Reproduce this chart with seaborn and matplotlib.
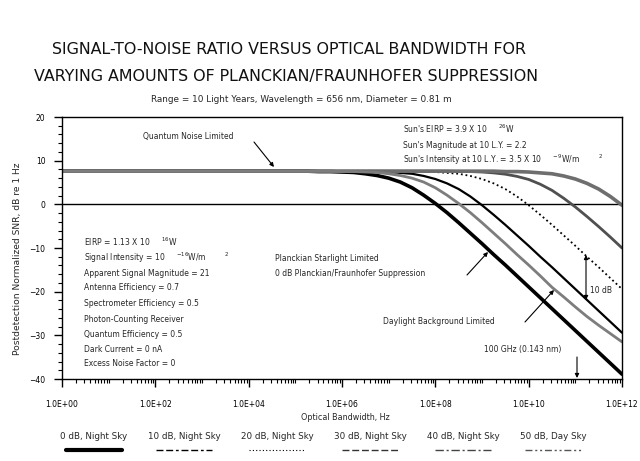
import numpy as np
import pandas as pd
import matplotlib
matplotlib.use("Agg")
import matplotlib.pyplot as plt
import seaborn as sns
from matplotlib.lines import Line2D
from matplotlib.ticker import FixedLocator, FixedFormatter, MultipleLocator, NullFormatter

# ---------------- data ----------------
log_bw = [0, 1, 2, 3, 4,
          5, 5.25, 5.5, 5.75, 6, 6.25, 6.5, 6.75, 7, 7.25, 7.5, 7.75, 8, 8.25,
          8.5, 8.75, 9, 9.25, 9.5, 9.75, 10, 10.25, 10.5, 10.75, 11, 11.25,
          11.5, 11.75, 12]

snr_0db_night = [7.6, 7.6, 7.6, 7.6, 7.6,
                 7.6, 7.6, 7.5, 7.5, 7.4, 7.3, 7.0, 6.6, 6.0, 5.1, 3.8, 2.1, 0.2, -1.9,
                 -4.2, -6.6, -9.0, -11.5, -13.9, -16.4, -18.9, -21.4, -23.9, -26.4, -28.9, -31.4,
                 -33.9, -36.4, -38.9]
snr_10db_night = [7.6, 7.6, 7.6, 7.6, 7.6,
                  7.6, 7.6, 7.6, 7.6, 7.6, 7.6, 7.5, 7.5, 7.4, 7.2, 7.0, 6.5, 5.8, 4.8,
                  3.5, 1.8, -0.2, -2.4, -4.7, -7.1, -9.5, -12.0, -14.4, -16.9, -19.4, -21.9,
                  -24.4, -26.9, -29.4]
snr_20db_night = [7.6, 7.6, 7.6, 7.6, 7.6,
                  7.6, 7.6, 7.6, 7.6, 7.6, 7.6, 7.6, 7.6, 7.6, 7.6, 7.5, 7.5, 7.4, 7.2,
                  7.0, 6.5, 5.8, 4.8, 3.5, 1.8, -0.2, -2.4, -4.7, -7.1, -9.5, -12.0,
                  -14.4, -16.9, -19.4]
snr_30db_night = [7.6, 7.6, 7.6, 7.6, 7.6,
                  7.6, 7.6, 7.6, 7.6, 7.6, 7.6, 7.6, 7.6, 7.6, 7.6, 7.6, 7.6, 7.6, 7.6,
                  7.5, 7.5, 7.4, 7.2, 6.9, 6.4, 5.7, 4.6, 3.2, 1.4, -0.6, -2.8,
                  -5.1, -7.5, -10.0]
snr_40db_night = [7.6, 7.6, 7.6, 7.6, 7.6,
                  7.6, 7.6, 7.6, 7.6, 7.6, 7.6, 7.6, 7.6, 7.6, 7.6, 7.6, 7.6, 7.6, 7.6,
                  7.6, 7.6, 7.6, 7.6, 7.5, 7.5, 7.4, 7.2, 7.0, 6.5, 5.8, 4.8,
                  3.5, 1.8, -0.2]
snr_50db_day = [7.6, 7.6, 7.6, 7.6, 7.6,
                7.6, 7.6, 7.6, 7.6, 7.5, 7.5, 7.4, 7.3, 7.0, 6.6, 6.0, 5.1, 3.8, 2.1,
                0.2, -1.9, -4.2, -6.6, -9.0, -11.5, -13.9, -16.4, -19.0, -21.2, -23.5, -25.7,
                -27.7, -29.6, -31.5]

series_labels = ["0 dB, Night Sky", "10 dB, Night Sky", "20 dB, Night Sky",
                 "30 dB, Night Sky", "40 dB, Night Sky", "50 dB, Day Sky"]

x_tick_exps = [0, 2, 4, 6, 8, 10, 12]
x_tick_labels = ["1.0E+00", "1.0E+02", "1.0E+04", "1.0E+06", "1.0E+08", "1.0E+10", "1.0E+12"]

bandwidth = [10.0 ** e for e in log_bw]
df = pd.DataFrame({"bw": bandwidth * 6,
                   "snr": snr_0db_night + snr_10db_night + snr_20db_night +
                          snr_30db_night + snr_40db_night + snr_50db_day,
                   "series": sum([[s] * len(log_bw) for s in series_labels], [])})

# ---------------- styling ----------------
sns.set_theme(style="ticks")
plt.rcParams["font.family"] = ["DejaVu Sans"]
plt.rcParams["axes.linewidth"] = 1.0

curve_styles = {
    "0 dB, Night Sky":  dict(color="black", lw=2.6, ls="-"),
    "10 dB, Night Sky": dict(color="black", lw=1.6, ls="-"),
    "20 dB, Night Sky": dict(color="black", lw=1.3, ls=(0, (1, 1.6))),
    "30 dB, Night Sky": dict(color="#505050", lw=2.0, ls="-"),
    "40 dB, Night Sky": dict(color="#6e6e6e", lw=2.6, ls="-"),
    "50 dB, Day Sky":   dict(color="#7d7d7d", lw=2.0, ls="-"),
}
legend_styles = {
    "0 dB, Night Sky":  dict(color="black", lw=3.0, ls="-"),
    "10 dB, Night Sky": dict(color="black", lw=1.0, ls=(0, (5, 2, 5, 2, 2, 2))),
    "20 dB, Night Sky": dict(color="black", lw=0.8, ls=(0, (1, 2))),
    "30 dB, Night Sky": dict(color="#333333", lw=1.0, ls=(0, (5, 2))),
    "40 dB, Night Sky": dict(color="#444444", lw=1.0, ls=(0, (6, 2, 1.5, 2))),
    "50 dB, Day Sky":   dict(color="#555555", lw=1.0, ls=(0, (5, 2, 1.5, 2, 1.5, 2))),
}

W, H = 640, 461
fig = plt.figure(figsize=(W / 100, H / 100), dpi=100)
ax = fig.add_axes([62 / W, 1 - 379 / H, (622 - 62) / W, (379 - 117) / H])

for s in series_labels:
    st = curve_styles[s]
    sub = df[df["series"] == s]
    sns.lineplot(data=sub, x="bw", y="snr", ax=ax, color=st["color"],
                 linewidth=st["lw"], linestyle=st["ls"], legend=False)

ax.axhline(0, color="black", lw=1.0, zorder=1)
ax.set_xscale("log")
ax.set_xlim(1, 1e12)
ax.set_ylim(-40, 20)

major_pos = [10.0 ** e for e in x_tick_exps]
minor_pos = [m * 10.0 ** d for d in range(0, 12) for m in range(1, 10)
             if not (m == 1 and d % 2 == 0)]
ax.xaxis.set_major_locator(FixedLocator(major_pos))
ax.xaxis.set_major_formatter(FixedFormatter(x_tick_labels))
ax.xaxis.set_minor_locator(FixedLocator(minor_pos))
ax.xaxis.set_minor_formatter(NullFormatter())
ax.yaxis.set_major_locator(MultipleLocator(10))
ax.yaxis.set_minor_locator(MultipleLocator(2))
ax.tick_params(which="major", direction="out", length=6, width=1.0, labelsize=5.5,
               color="black", labelcolor="black")
ax.tick_params(axis="x", which="major", pad=9)
ax.tick_params(axis="y", which="major", pad=6)
ax.tick_params(which="minor", direction="out", length=3, width=0.8, color="black")
for sp in ax.spines.values():
    sp.set_color("black")
    sp.set_linewidth(1.0)

ax.set_xlabel("")
ax.set_ylabel("")


def fx(x):
    return x / W


def fy(y):
    return 1 - y / H


# titles
fig.text(fx(289), fy(50), "SIGNAL-TO-NOISE RATIO VERSUS OPTICAL BANDWIDTH FOR",
         ha="center", va="center", fontsize=11.4, color="#111111")
fig.text(fx(286), fy(77), "VARYING AMOUNTS OF PLANCKIAN/FRAUNHOFER SUPPRESSION",
         ha="center", va="center", fontsize=11.4, color="#111111")
fig.text(fx(301), fy(100), "Range = 10 Light Years, Wavelength = 656 nm, Diameter = 0.81 m",
         ha="center", va="center", fontsize=6.4)

# axis labels
fig.text(fx(345), fy(417), "Optical Bandwidth, Hz", ha="center", va="center", fontsize=5.8)
fig.text(fx(18), fy(259), "Postdetection Normalized SNR, dB re 1 Hz", ha="center",
         va="center", rotation=90, fontsize=6.6)

fs = 5.5
# top annotations
fig.text(fx(403), fy(129), "Sun's EIRP = 3.9 X 10     $^{26}$W", ha="left", va="center", fontsize=fs)
fig.text(fx(143), fy(136), "Quantum Noise Limited", ha="left", va="center", fontsize=fs)
fig.text(fx(403), fy(145), "Sun's Magnitude at 10 L.Y. = 2.2", ha="left", va="center", fontsize=fs)
fig.text(fx(403), fy(160), "Sun's Intensity at 10 L.Y. = 3.5 X 10     $^{-9}$W/m        $^{2}$",
         ha="left", va="center", fontsize=fs)

# left parameter block
left_lines = ["EIRP = 1.13 X 10     $^{16}$W",
              "Signal Intensity = 10     $^{-16}$W/m        $^{2}$",
              "Apparent Signal Magnitude = 21",
              "Antenna Efficiency = 0.7",
              "Spectrometer Efficiency = 0.5",
              "Photon-Counting Receiver",
              "Quantum Efficiency = 0.5",
              "Dark Current = 0 nA",
              "Excess Noise Factor = 0"]
left_y = [242, 258, 273, 288, 303, 319, 334, 349, 364]
for t, yy in zip(left_lines, left_y):
    fig.text(fx(84), fy(yy), t, ha="left", va="center", fontsize=fs)

fig.text(fx(275), fy(258), "Planckian Starlight Limited", ha="left", va="center", fontsize=fs)
fig.text(fx(275), fy(273), "0 dB Planckian/Fraunhofer Suppression", ha="left", va="center", fontsize=fs)
fig.text(fx(383), fy(321), "Daylight Background Limited", ha="left", va="center", fontsize=fs)
fig.text(fx(484), fy(349), "100 GHz (0.143 nm)", ha="left", va="center", fontsize=fs)
fig.text(fx(590), fy(290), "10 dB", ha="left", va="center", fontsize=fs)


def arrow(x0, y0, x1, y1, style="-|>"):
    fig.add_artist(matplotlib.patches.FancyArrowPatch(
        (fx(x0), fy(y0)), (fx(x1), fy(y1)), transform=fig.transFigure,
        arrowstyle=style, color="black", lw=0.8, mutation_scale=6,
        shrinkA=0, shrinkB=0))


arrow(254, 142, 274, 167)
arrow(467, 275, 488, 252)
arrow(525, 322, 554, 290)
arrow(586, 300, 586, 255, style="<|-|>")
arrow(577, 357, 577, 378)

# legend (labels above line samples)
leg_cx = [94, 184, 277, 370, 463, 553]
for s, cx in zip(series_labels, leg_cx):
    fig.text(fx(cx), fy(436), s, ha="center", va="center", fontsize=6.3)
    st = legend_styles[s]
    fig.add_artist(Line2D([fx(cx - 28), fx(cx + 28)], [fy(450), fy(450)],
                          transform=fig.transFigure, color=st["color"],
                          lw=st["lw"], ls=st["ls"]))

fig.savefig("out.png", dpi=100)
